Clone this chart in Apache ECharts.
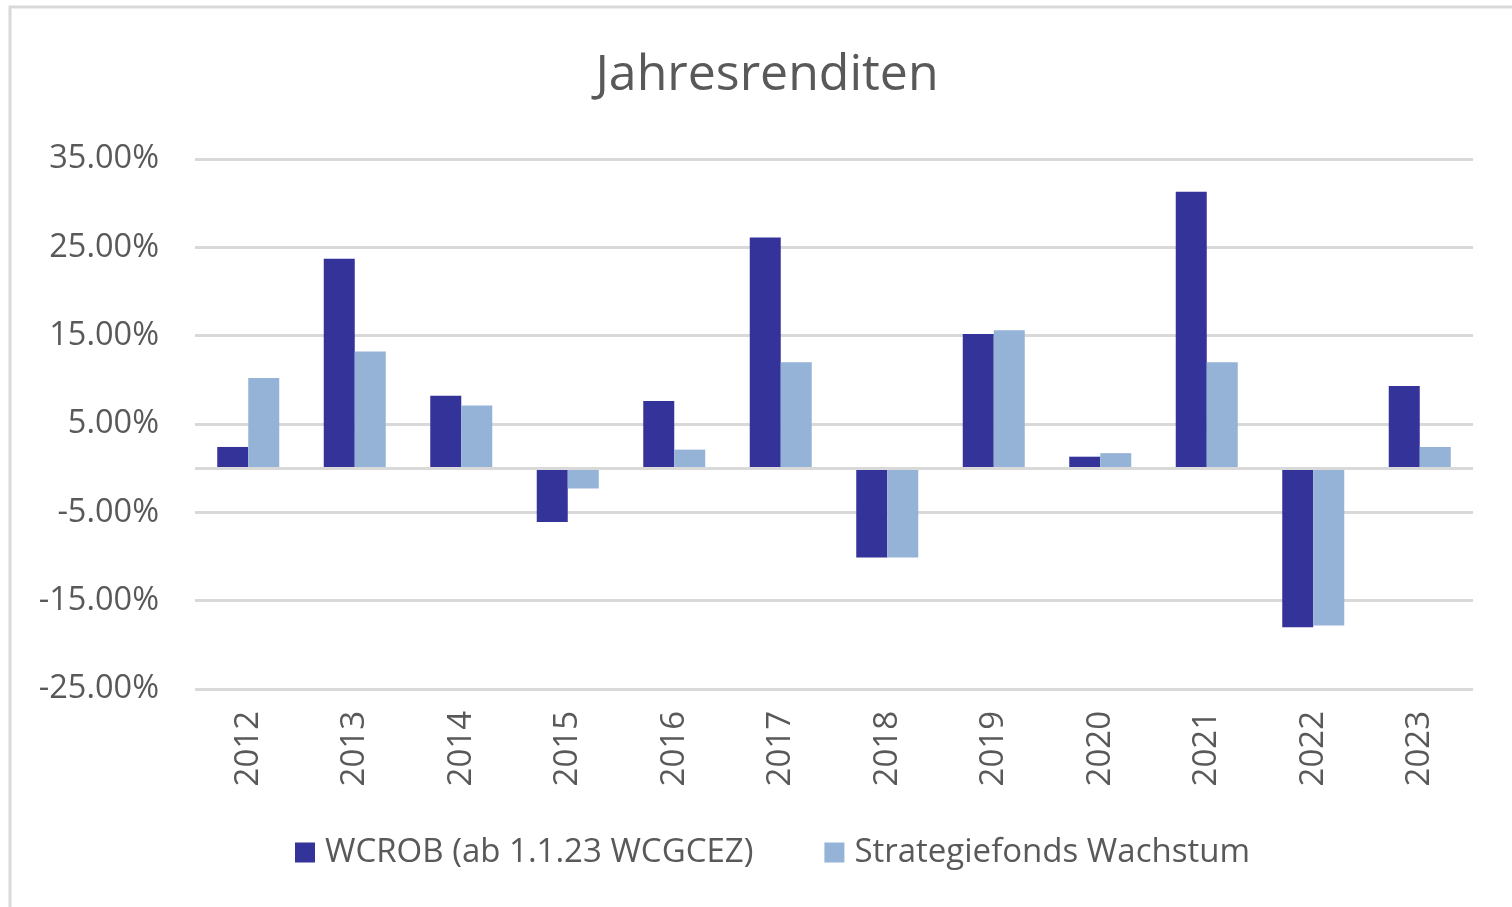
<html lang="de">
<head>
    <meta charset="UTF-8">
    <title>Jahresrenditen</title>
    <style>
        html, body { margin: 0; padding: 0; background: #fff; }
        #echart { width: 1512px; height: 907px; }
    </style>
</head>
<body>
<div id="echart"></div>
<script src="https://cdn.jsdelivr.net/npm/echarts@6/dist/echarts.min.js"></script>
<script>
    // Jahre (Kategorien)
    const years = ['2012', '2013', '2014', '2015', '2016', '2017', '2018', '2019', '2020', '2021', '2022', '2023']
    // Renditen in Prozent
    const wcrob = [2.4, 23.7, 8.2, -6.1, 7.6, 26.1, -10.1, 15.2, 1.3, 31.3, -18.0, 9.3]
    const wachstum = [10.2, 13.2, 7.1, -2.3, 2.1, 12.0, -10.1, 15.6, 1.7, 12.0, -17.8, 2.4]
    const seriesNames = ['WCROB (ab 1.1.23 WCGCEZ)', 'Strategiefonds Wachstum']

    const textColor = '#595959'
    const gridColor = '#d9d9d9'
    const fontFamily = '"Open Sans", "Noto Sans", sans-serif'

    const echart = echarts.init(document.getElementById('echart'))

    echart.setOption({
        animation: false,
        textStyle: { fontFamily: fontFamily },
        // grauer Rahmen wie im Excel-Diagramm
        graphic: [{
            type: 'rect',
            shape: { x: 10, y: 7, width: 1540, height: 940 },
            style: { fill: 'none', stroke: gridColor, lineWidth: 3 },
            silent: true
        }],
        title: {
            text: 'Jahresrenditen',
            left: 762,
            textAlign: 'center',
            top: 46,
            textStyle: { color: textColor, fontSize: 50, fontWeight: 'normal', fontFamily: fontFamily }
        },
        legend: {
            data: seriesNames,
            left: 290,
            top: 831,
            itemWidth: 20,
            itemHeight: 20,
            itemGap: 71,
            icon: 'rect',
            textStyle: { color: textColor, fontSize: 33, padding: [0, 0, 0, 5], fontFamily: fontFamily }
        },
        grid: { left: 195, right: 39, top: 159, bottom: 218, containLabel: false },
        xAxis: {
            type: 'category',
            data: years,
            axisLine: { show: false, onZero: false },
            axisTick: { show: false },
            axisLabel: { rotate: 90, margin: 22, color: textColor, fontSize: 33, fontFamily: fontFamily }
        },
        yAxis: {
            type: 'value',
            min: -25,
            max: 35,
            interval: 10,
            axisLine: { show: false },
            axisTick: { show: false },
            axisLabel: {
                margin: 36,
                color: textColor,
                fontSize: 32.5,
                fontFamily: fontFamily,
                formatter: v => v.toFixed(2) + '%'
            },
            splitLine: { lineStyle: { color: gridColor, width: 3 } }
        },
        series: [{
            type: 'bar',
            name: seriesNames[0],
            data: wcrob,
            barWidth: 31,
            barGap: '0%',
            itemStyle: { color: '#333399' },
            markLine: {
                silent: true,
                symbol: 'none',
                label: { show: false },
                lineStyle: { color: gridColor, width: 3, type: 'solid' },
                data: [{ yAxis: 0 }]
            }
        }, {
            type: 'bar',
            name: seriesNames[1],
            data: wachstum,
            barWidth: 31,
            barGap: '0%',
            itemStyle: { color: '#95b3d7' }
        }]
    })
</script>
</body>
</html>
